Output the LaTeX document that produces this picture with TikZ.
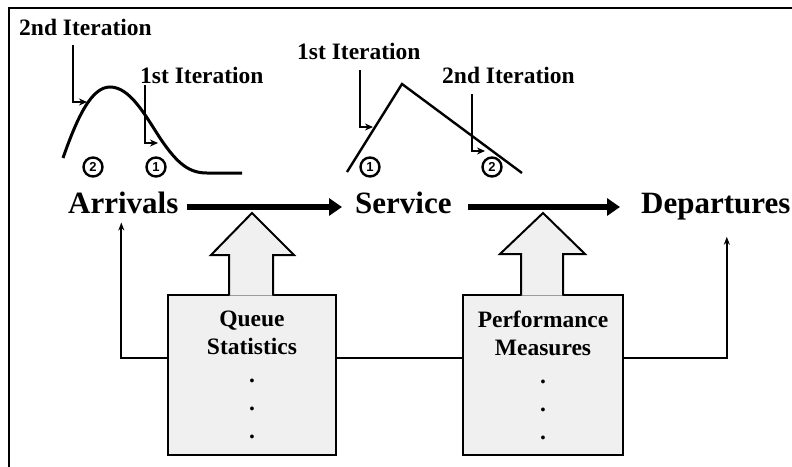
\documentclass[tikz,border=0pt]{standalone}
\usepackage{fontspec}
\setmainfont{Liberation Serif}
\setsansfont{Liberation Sans}
\usepackage{tikz}
\usetikzlibrary{arrows.meta}

\definecolor{boxgray}{HTML}{F0F0F0}

\begin{document}
\begin{tikzpicture}[x=1pt,y=-1pt,
        big/.style={inner sep=0,font=\fontsize{31}{34}\selectfont\bfseries},
        iter/.style={inner sep=0,anchor=base west,font=\fontsize{23.5}{26}\selectfont\bfseries},
        num/.style={circle,draw,line width=2.4pt,minimum size=19pt,inner sep=0,
            font=\fontsize{13}{14}\selectfont\sffamily\bfseries},
        stat/.style={draw,line width=2pt,fill=boxgray,minimum height=160pt,align=center,
            font=\fontsize{23.5}{28}\selectfont\bfseries},
        flow/.style={line width=6pt,-{Triangle[length=13pt,width=17pt]}},
        fb/.style={line width=2pt,-{Stealth[length=8pt,width=6pt]}},
        ptr/.style={line width=1.8pt,-{Stealth[length=8pt,width=7pt]}},
        curve/.style={line width=3pt}]
    \useasboundingbox (0,0) rectangle (792,466);
    \draw[line width=2.4pt] (9,8) rectangle (800,480);

    % main chain
    \node [big,anchor=base west] (arr) at (68,213) {Arrivals};
    \node [big,anchor=base west] (srv) at (355,213) {Service};
    \node [big,anchor=base west] (dep) at (641,213) {Departures};
    \draw[flow] ([xshift=8pt,yshift=6pt]arr.base east) -- ([xshift=-13pt,yshift=6pt]srv.base west);
    \draw[flow] ([xshift=16pt,yshift=6pt]srv.base east) -- ([xshift=-21pt,yshift=6pt]dep.base west);

    % boxes
    \node [stat,minimum width=168pt] (qs) at (252,375) {Queue\\Statistics\\.\\.\\.};
    \node [stat,minimum width=160pt] (pm) at (543,375) {Performance\\Measures\\.\\.\\.};
    \filldraw[line width=2pt,fill=boxgray,line join=miter]
        ([xshift=-23pt,yshift=-1.5pt]qs.north) -- ++(0,-40.5) -- ++(-18,0) -- ++(41,-42)
        -- ++(42,42) -- ++(-21,0) -- ++(0,40.5);
    \filldraw[line width=2pt,fill=boxgray,line join=miter]
        ([xshift=-22pt,yshift=-1.5pt]pm.north) -- ++(0,-41.5) -- ++(-21,0) -- ++(43,-41)
        -- ++(42,41) -- ++(-22,0) -- ++(0,41.5);

    % feedback
    \draw[fb] ([yshift=17pt]qs.west) -| ([xshift=-2pt,yshift=-9pt]arr.south);
    \draw[line width=2pt] ([yshift=17pt]qs.east) -- ([yshift=17pt]pm.west);
    \draw[fb] ([yshift=17pt]pm.east) -| ([xshift=11pt,yshift=-17pt]dep.south);

    % arrival curve
    \draw[curve] (63,158) .. controls (78,115) and (92,87) .. (110,87)
        .. controls (130,87) and (145,115) .. (160,138)
        .. controls (178,165) and (190,173) .. (207,173) -- (242,173);
    \node [iter] (it2a) at (19,35) {2nd Iteration};
    \node [iter] (it1a) at (140,83) {1st Iteration};
    \coordinate (p2a) at (87,102);
    \coordinate (p1a) at (158,143);
    \draw[ptr] ([xshift=54pt,yshift=-10pt]it2a.south west) |- (p2a);
    \draw[ptr] ([xshift=5pt,yshift=-2pt]it1a.south west) |- (p1a);
    \node [num] (n2a) at (93,167) {2};
    \node [num] (n1a) at (156,167) {1};

    % service curve
    \draw[line width=2.4pt] (347,172) -- (402,84) -- (522,173);
    \node [iter] (it1b) at (297,59) {1st Iteration};
    \node [iter] (it2b) at (442,83) {2nd Iteration};
    \coordinate (p1b) at (373,127);
    \coordinate (p2b) at (485,151);
    \draw[ptr] ([xshift=63pt,yshift=-11pt]it1b.south west) |- (p1b);
    \draw[ptr] ([xshift=30pt,yshift=-11pt]it2b.south west) |- (p2b);
    \node [num] (n1b) at (370,167) {1};
    \node [num] (n2b) at (492,167) {2};
\end{tikzpicture}
\end{document}
